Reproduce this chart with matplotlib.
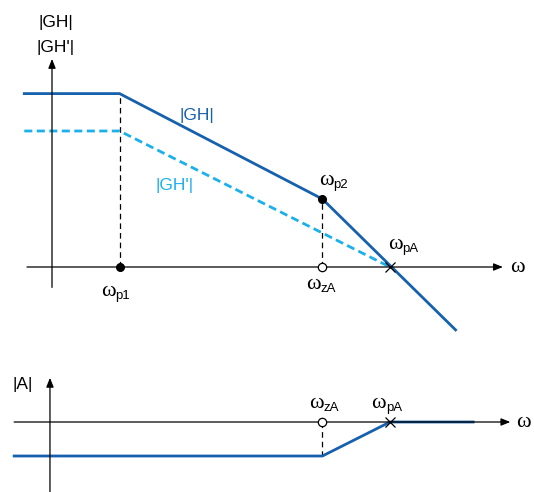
import matplotlib
matplotlib.use("Agg")
import matplotlib.pyplot as plt

plt.rcParams["font.family"] = ["Liberation Sans", "DejaVu Sans"]

# Break frequencies on a log-omega scale (one unit per decade)
w_p1 = 1.0
w_zA = 4.0
w_p2 = 4.0
w_pA = 5.0

# Asymptotic magnitude of |GH| (vertices)
gh_x = [-0.41, w_p1, w_p2, 5.97]
gh_y = [5.1, 5.1, 2.0, -1.85]

# Asymptotic magnitude of |GH'| (vertices)
ghp_x = [-0.41, w_p1, w_pA]
ghp_y = [4.0, 4.0, 0.0]

# Asymptotic magnitude of |A|
a_x = [-0.56, w_zA, w_pA, 6.23]
a_y = [-1.0, -1.0, 0.0, 0.0]

DARK = "#1661ad"
LIGHT = "#1cb0ea"
W, H = 534, 492
px_x = 67.6   # pixels per decade
px_y = 34.0   # pixels per magnitude unit
x0_px = 52

fig = plt.figure(figsize=(W / 100, H / 100), dpi=100)
xlim = (-x0_px / px_x, (W - x0_px) / px_x)

# top panel: pixel rows 0..345, zero line at row 267
top_h = 345
ax1 = fig.add_axes([0, (H - top_h) / H, 1, top_h / H])
ax1.set_xlim(*xlim)
ax1.set_ylim(-(top_h - 267) / px_y, 267 / px_y)

# bottom panel: pixel rows 345..492, zero line at row 422
ax2 = fig.add_axes([0, 0, 1, (H - top_h) / H])
ax2.set_xlim(*xlim)
ax2.set_ylim(-(H - 422) / px_y, (422 - top_h) / px_y)

for ax in (ax1, ax2):
    ax.axis("off")

arrow = dict(arrowstyle="-|>,head_length=0.55,head_width=0.22", color="black",
             lw=0.9, shrinkA=0, shrinkB=0)

OMEGA_FONT = dict(family=["Liberation Serif", "DejaVu Serif"], fontsize=16)
SUB_FONT = dict(family=["Liberation Sans", "DejaVu Sans"], fontsize=9.5)


def omega_label(ax, x, y, sub=None):
    """Omega with an upright sans subscript; (x, y) is the join point on the baseline."""
    if sub is None:
        ax.text(x, y, "\u03c9", ha="center", va="baseline", **OMEGA_FONT)
        return
    ax.annotate("\u03c9", (x, y), xytext=(0.3, 0), textcoords="offset points",
                ha="right", va="baseline", **OMEGA_FONT)
    ax.annotate(sub, (x, y), xytext=(0.3, -2.2), textcoords="offset points",
                ha="left", va="baseline", **SUB_FONT)


# --- top panel axes
ax1.annotate("", xy=(6.67, 0), xytext=(-0.37, 0), arrowprops=arrow)
ax1.annotate("", xy=(0, 6.12), xytext=(0, -0.6), arrowprops=arrow)

# dashed guides
ax1.plot([w_p1, w_p1], [0, gh_y[1]], color="black", lw=0.9, ls=(0, (4.5, 3.2)))
ax1.plot([w_p2, w_p2], [0, gh_y[2]], color="black", lw=0.9, ls=(0, (4.5, 3.2)))

ax1.plot(ghp_x, ghp_y, color=LIGHT, lw=2.0, ls=(0, (2.9, 1.6)), solid_capstyle="butt")
ax1.plot(gh_x, gh_y, color=DARK, lw=2.0, solid_joinstyle="miter")

ax1.plot([w_p1], [0], "o", color="black", ms=5.5)
ax1.plot([w_p2], [gh_y[2]], "o", color="black", ms=5.5)
ax1.plot([w_zA], [0], "o", mfc="white", mec="black", mew=0.9, ms=6, zorder=5)
ax1.plot([w_pA], [0], "x", color="black", ms=7, mew=0.9, zorder=5)

fs = 12.5
ax1.text(0.05, 7.2, "|GH|", fontsize=fs, ha="center", va="center")
ax1.text(0.05, 6.47, "|GH'|", fontsize=fs, ha="center", va="center")
ax1.text(2.15, 4.47, "|GH|", fontsize=fs, ha="center", va="center", color=DARK)
ax1.text(1.82, 2.41, "|GH'|", fontsize=fs, ha="center", va="center", color=LIGHT)
omega_label(ax1, 0.93, -0.85, "p1")
omega_label(ax1, 3.97, -0.65, "zA")
omega_label(ax1, 4.16, 2.41, "p2")
omega_label(ax1, 5.18, 0.53, "pA")
omega_label(ax1, 6.89, -0.15)

# --- bottom panel
ax2.annotate("", xy=(6.78, 0), xytext=(-0.56, 0), arrowprops=arrow)
ax2.annotate("", xy=(-0.03, 1.3), xytext=(-0.03, -2.1), arrowprops=arrow)
ax2.plot([w_zA, w_zA], [0, a_y[1]], color="black", lw=0.9, ls=(0, (4.5, 3.2)))
ax2.plot(a_x, a_y, color=DARK, lw=2.0)
ax2.plot([w_zA], [0], "o", mfc="white", mec="black", mew=0.9, ms=6, zorder=5)
ax2.plot([w_pA], [0], "x", color="black", ms=7, mew=0.9, zorder=5)

ax2.text(-0.44, 1.09, "|A|", fontsize=fs, ha="center", va="center")
omega_label(ax2, 4.01, 0.41, "zA")
omega_label(ax2, 4.93, 0.41, "pA")
omega_label(ax2, 6.97, -0.15)

fig.savefig("out.png", dpi=100)
